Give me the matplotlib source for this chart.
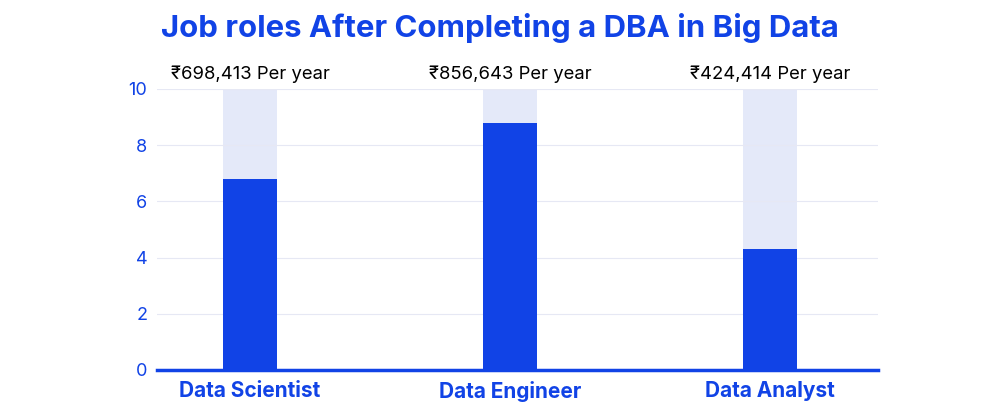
import matplotlib
matplotlib.use("Agg")
import matplotlib.pyplot as plt

roles = ["Data Scientist", "Data Engineer", "Data Analyst"]
scores = [6.8, 8.8, 4.3]
salaries = ["₹698,413 Per year", "₹856,643 Per year", "₹424,414 Per year"]
y_max = 10

blue = "#1143e6"
light = "#e4e9f9"
fonts = ["Inter", "DejaVu Sans"]

fig = plt.figure(figsize=(10, 4.11), dpi=100)
ax = fig.add_axes([0.157, 0.0998, 0.721, 0.6837])

x = list(range(len(roles)))
ax.bar(x, [y_max] * len(roles), width=0.208, color=light, zorder=1)
ax.bar(x, scores, width=0.208, color=blue, zorder=2)

for xi, s in zip(x, salaries):
    ax.text(xi, y_max + 0.22, s, ha="center", va="bottom", fontsize=13.3,
            color="black", family=fonts)

ax.set_xlim(-0.358, 2.415)
ax.set_ylim(0, y_max)
ax.set_yticks([0, 2, 4, 6, 8, 10])
ax.grid(axis="y", color="#e6e8f4", linewidth=0.8, zorder=0)
ax.axhline(0, color=blue, linewidth=2.5, zorder=3, clip_on=False)
for sp in ax.spines.values():
    sp.set_visible(False)
ax.tick_params(axis="y", length=0, labelcolor=blue, labelsize=13, pad=7)
ax.tick_params(axis="x", length=0, pad=8)
ax.set_xticks(x)
ax.set_xticklabels(roles, fontsize=15, fontweight="bold", color=blue, family=fonts)
for lab in ax.get_yticklabels():
    lab.set_family(fonts)

fig.text(0.5, 0.932, "Job roles After Completing a DBA in Big Data", ha="center",
         va="center", fontsize=22.4, fontweight="bold", color=blue, family=fonts)

fig.savefig("out.png", dpi=100)
